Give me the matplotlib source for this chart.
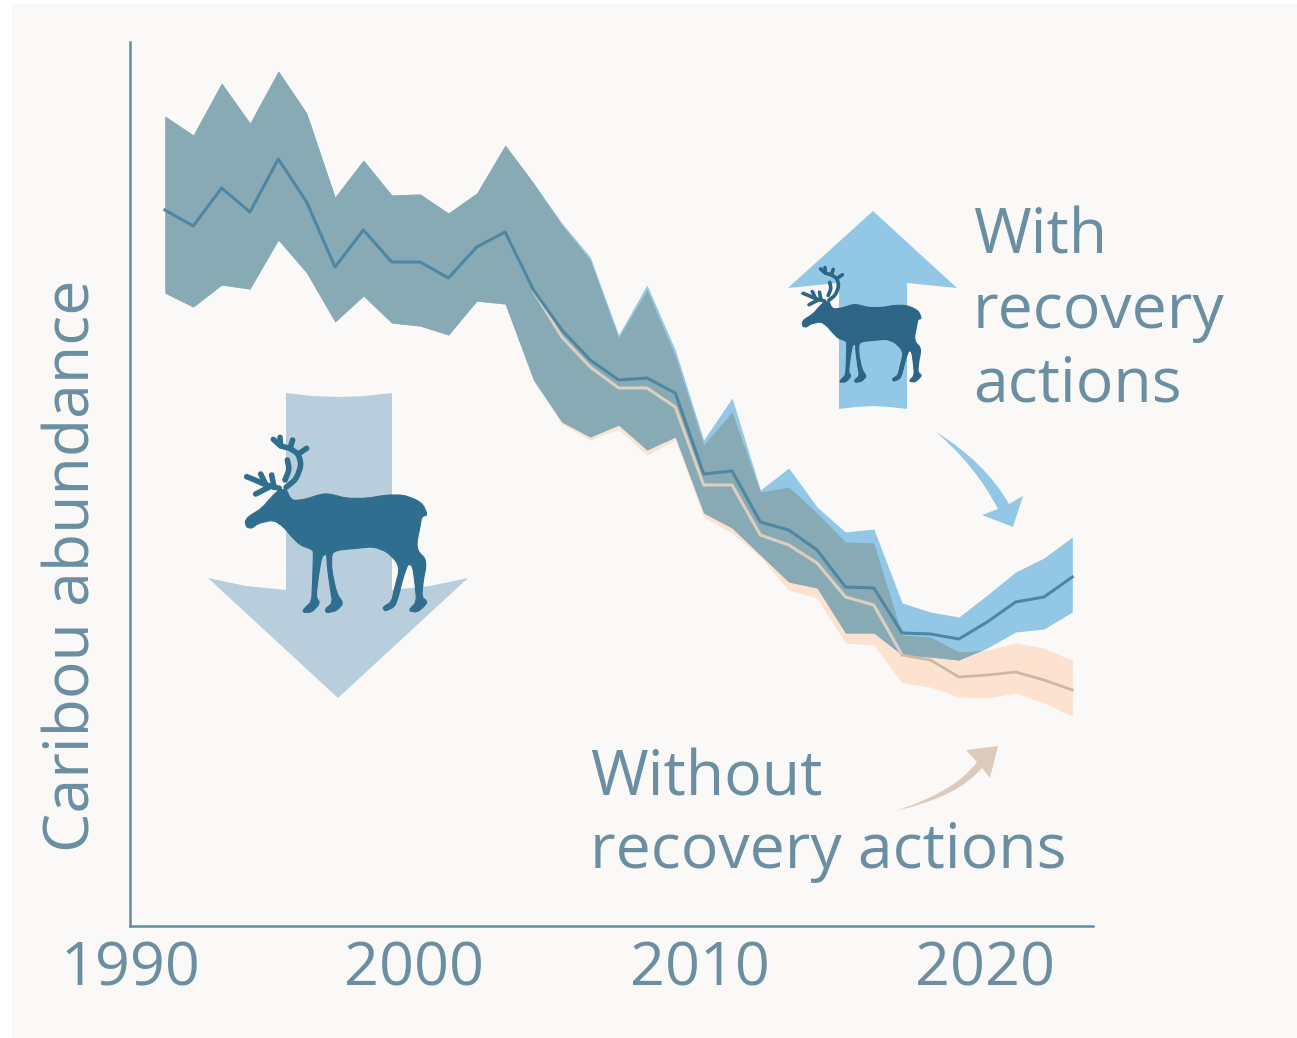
import numpy as np
import matplotlib
matplotlib.use("Agg")
import matplotlib.pyplot as plt
from matplotlib.patches import Polygon, Rectangle, PathPatch
from matplotlib.path import Path

plt.rcParams["font.family"] = ["Open Sans", "DejaVu Sans"]

# abundance is an unscaled index, the source axis has no numbers
years = list(range(1991, 2024))
with_upper = [810, 791, 843, 803, 855, 813, 729, 766, 731, 732, 713, 733, 781, 743, 703, 669, 591,
              641, 576, 486, 528, 436, 458, 419, 394, 397, 323, 314, 309, 331, 354, 368, 389]
with_mid = [716, 700, 738, 714, 767, 724, 659, 696, 664, 664, 648, 679, 694, 636, 596, 566, 546,
            548, 533, 452, 455, 404, 396, 376, 339, 338, 293, 292, 287, 304, 324, 329, 349]
with_lower = [633, 619, 641, 637, 686, 653, 604, 630, 603, 600, 591, 625, 622, 546, 504, 489, 501,
              476, 489, 413, 398, 371, 344, 338, 293, 293, 271, 269, 266, 278, 294, 297, 314]
without_upper = [810, 791, 843, 803, 855, 813, 729, 766, 731, 732, 713, 733, 781, 743, 701, 666, 588,
                 636, 570, 481, 514, 434, 439, 413, 384, 383, 291, 289, 274, 276, 283, 278, 266]
without_mid = [716, 700, 738, 714, 767, 724, 659, 696, 664, 664, 648, 679, 694, 635, 589, 559, 538,
               538, 519, 441, 441, 391, 381, 363, 329, 321, 271, 266, 249, 251, 254, 246, 236]
without_lower = [633, 619, 641, 637, 686, 653, 604, 630, 603, 600, 591, 625, 622, 545, 502, 486, 497,
                 471, 486, 409, 393, 369, 336, 328, 283, 281, 243, 239, 229, 228, 233, 223, 210]

tick_pos = [1989.77, 1999.78, 2009.87, 2019.92]
tick_labels = ["1990", "2000", "2010", "2020"]

BG = "#FBF9F7"
AXIS = "#5F8FA3"
TEXT = "#6A8FA2"
BLUE = "#92C8E6"
PEACH = "#FCE2CF"
OVERLAP = "#87AAB4"

# caribou outline, traced at the size of the large animal
body = [(165, 425), (175, 410), (215, 385), (250, 345), (270, 328), (290, 330), (298, 350), (310, 362),
        (345, 358), (395, 342), (420, 342), (470, 355), (530, 355), (590, 345), (640, 345), (680, 360),
        (700, 375), (712, 405), (695, 410), (690, 440), (680, 490), (685, 515), (705, 535), (708, 560),
        (700, 600), (695, 650), (712, 665), (702, 680), (680, 697), (655, 692), (680, 665), (675, 610),
        (668, 560), (655, 550), (640, 590), (625, 650), (614, 680), (585, 694), (578, 682), (605, 665),
        (615, 620), (628, 570), (620, 545), (590, 515), (550, 500), (500, 505), (445, 510), (425, 520),
        (425, 570), (440, 640), (460, 670), (440, 692), (410, 699), (405, 688), (428, 668), (420, 620),
        (412, 560), (410, 520), (395, 530), (385, 590), (378, 650), (390, 670), (365, 697), (338, 697),
        (343, 685), (365, 665), (368, 600), (370, 530), (370, 510), (330, 495), (305, 470), (280, 440),
        (250, 420), (205, 430), (185, 445), (170, 442)]
antlers = [
    [(288, 322), (318, 298), (334, 255), (325, 222), (300, 205), (272, 198), (250, 178)],
    [(300, 205), (308, 180)],
    [(325, 222), (350, 205)],
    [(272, 198), (270, 172)],
    [(285, 300), (298, 268), (292, 240)],
    [(268, 325), (228, 315), (195, 300), (170, 290)],
    [(228, 315), (212, 282)],
    [(252, 322), (245, 285)],
    [(240, 320), (197, 342)],
]


def chaikin(pts, n=1, closed=False):
    # corner cutting, only used on the traced shapes
    p = np.array(pts, dtype=float)
    for _ in range(n):
        q = np.roll(p, -1, axis=0) if closed else p[1:]
        r = p if closed else p[:-1]
        new = np.empty((len(r) * 2, 2))
        new[0::2] = 0.8 * r + 0.2 * q
        new[1::2] = 0.2 * r + 0.8 * q
        p = new if closed else np.vstack([p[0], new, p[-1]])
    return p


def caribou(ov, ox, oy, s, color):
    # ox, oy = where the trace origin lands in pixels
    pts = chaikin(body, 1, closed=True) / 3 * s + [ox, oy]
    ov.add_patch(Polygon(pts, closed=True, fc=color, ec=color, lw=0.8, zorder=6))
    for a in antlers:
        a = chaikin(a, 2) / 3 * s + [ox, oy]
        ov.plot(a[:, 0], a[:, 1], color=color, lw=4.0 * s, solid_capstyle="round", zorder=6)


def pointer(ov, verts, codes, color):
    ov.add_patch(PathPatch(Path(verts, codes), fc=color, ec="none", zorder=6))


fig = plt.figure(figsize=(12.97, 10.38), dpi=100, facecolor="white")
fig.add_artist(Rectangle((12 / 1297, 0), 1, 1 - 4 / 1038, transform=fig.transFigure,
                         fc=BG, ec="none", zorder=-1))
ax = fig.add_axes([130 / 1297, (1038 - 926) / 1038, 963 / 1297, 884 / 1038])
ax.set_facecolor("none")
ax.set_xlim(1989.77, 2023.73)
ax.set_ylim(0, 884)

x = np.array(years)
wu, wm, wl = np.array(with_upper), np.array(with_mid), np.array(with_lower)
nu, nm, nl = np.array(without_upper), np.array(without_mid), np.array(without_lower)

ax.fill_between(x, nl, nu, color=PEACH, lw=0, zorder=1)
ax.fill_between(x, wl, wu, color=BLUE, lw=0, zorder=2)
top, bot = np.minimum(wu, nu), np.maximum(wl, nl)
ax.fill_between(x, bot, top, where=top > bot, interpolate=True, color=OVERLAP, lw=0, zorder=3)

ax.plot(x[13:27], nm[13:27], color="#DCCFC0", lw=2.2, zorder=4)
ax.plot(x[26:], nm[26:], color="#CDB8A8", lw=2.0, zorder=4)
ax.plot(x, wm, color="#4F87A3", lw=2.2, zorder=5)

for s in ["top", "right"]:
    ax.spines[s].set_visible(False)
for s in ["left", "bottom"]:
    ax.spines[s].set_color(AXIS)
    ax.spines[s].set_linewidth(1.8)
ax.set_yticks([])
ax.set_xticks(tick_pos)
ax.set_xticklabels(tick_labels, fontsize=44, color=TEXT)
ax.tick_params(axis="x", length=0, pad=10)

# overlay in image pixels for arrows, animals and labels
ov = fig.add_axes([0, 0, 1, 1])
ov.set_xlim(0, 1297)
ov.set_ylim(1038, 0)
ov.axis("off")
ov.patch.set_alpha(0)

down = [(286, 393), (312, 396), (339, 397), (365, 396), (392, 393), (392, 590), (430, 586), (468, 578),
        (338, 698), (208, 578), (246, 586), (286, 590)]
ov.add_patch(Polygon(down, closed=True, fc="#B8CEDD", ec="none", zorder=2))
up = [(873, 211), (957, 288), (907, 283), (907, 409), (890, 407), (873, 406), (856, 407), (839, 409),
      (839, 283), (788, 288)]
ov.add_patch(Polygon(up, closed=True, fc=BLUE, ec="none", zorder=2))

caribou(ov, 190, 380, 1.0, "#2F6E8E")
caribou(ov, 766, 230, 0.655, "#2C6585")

# curved pointers
C3, L, M = Path.CURVE3, Path.LINETO, Path.MOVETO
pointer(ov, [(936, 432), (985, 462), (1009, 504), (1023, 496), (1013, 527), (982, 515), (998, 509),
             (975, 465), (936, 432)],
        [M, C3, C3, L, L, L, L, C3, C3], BLUE)
pointer(ov, [(895, 811), (955, 792), (977, 762), (966, 750), (998, 746), (990, 778), (982, 768),
             (958, 797), (895, 811)],
        [M, C3, C3, L, L, L, L, C3, C3], "#DCCBBA")

txt = dict(fontsize=45, color=TEXT, va="baseline", ha="left")
ov.text(973, 253, "With", **txt)
ov.text(973, 328, "recovery", **txt)
ov.text(973, 402, "actions", **txt)
ov.text(590, 795, "Without", **txt)
ov.text(590, 868, "recovery actions", **txt)
ov.text(73, 566, "Caribou abundance", fontsize=45, color=TEXT, rotation=90, va="center", ha="center")

fig.savefig("out.png", dpi=100)
